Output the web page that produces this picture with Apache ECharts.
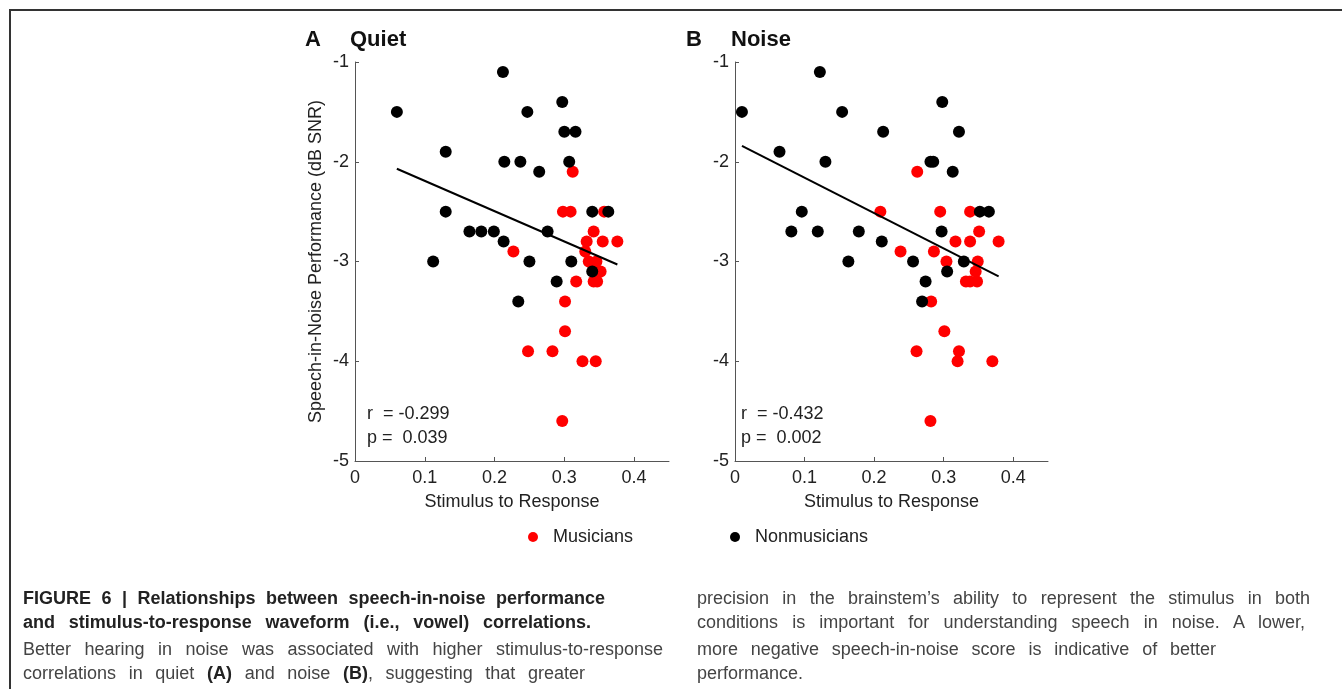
<!DOCTYPE html>
<html>
<head>
<meta charset="utf-8">
<script src="https://cdn.jsdelivr.net/npm/echarts@6/dist/echarts.min.js"></script>
<style>
  html, body { margin: 0; padding: 0; background: #fff; }
  #chart { position: absolute; left: 0; top: 0; width: 1342px; height: 689px; }
  .frame { position: absolute; left: 9px; top: 9px; width: 1340px; height: 690px;
           border-top: 2px solid #333; border-left: 2px solid #333; }
  .cap { position: absolute; font-family: "Liberation Sans", Arial, sans-serif; font-size: 18px;
         line-height: 24px; white-space: nowrap; color: #444; }
  .cap div { text-align: justify; text-align-last: justify; }
  .cap b { color: #222; }
</style>
</head>
<body>
<div class="frame"></div>
<div id="chart"></div>
<div class="cap" style="left:23px; top:586px;">
  <div style="width:582px"><b>FIGURE 6 | Relationships between speech-in-noise performance</b></div>
  <div style="width:568px"><b>and stimulus-to-response waveform (i.e., vowel) correlations.</b></div>
  <div style="width:640px; margin-top:3px">Better hearing in noise was associated with higher stimulus-to-response</div>
  <div style="width:562px">correlations in quiet <b>(A)</b> and noise <b>(B)</b>, suggesting that greater</div>
</div>
<div class="cap" style="left:697px; top:586px;">
  <div style="width:613px">precision in the brainstem’s ability to represent the stimulus in both</div>
  <div style="width:608px">conditions is important for understanding speech in noise. A lower,</div>
  <div style="width:519px; margin-top:3px">more negative speech-in-noise score is indicative of better</div>
  <div style="text-align:left; text-align-last:left">performance.</div>
</div>
<script>
// Quiet (A)
const quietMusX = [0.312, 0.298, 0.309, 0.357, 0.342, 0.332, 0.355, 0.376, 0.227, 0.330, 0.335, 0.346, 0.352, 0.317, 0.342, 0.347, 0.301, 0.301, 0.248, 0.283, 0.326, 0.345, 0.297];
const quietMusY = [-2.1, -2.5, -2.5, -2.5, -2.7, -2.8, -2.8, -2.8, -2.9, -2.9, -3.0, -3.0, -3.1, -3.2, -3.2, -3.2, -3.4, -3.7, -3.9, -3.9, -4.0, -4.0, -4.6];
const quietNonX = [0.060, 0.212, 0.297, 0.247, 0.300, 0.316, 0.130, 0.214, 0.237, 0.307, 0.264, 0.130, 0.340, 0.363, 0.164, 0.181, 0.199, 0.276, 0.213, 0.112, 0.250, 0.310, 0.340, 0.289, 0.234];
const quietNonY = [-1.5, -1.1, -1.4, -1.5, -1.7, -1.7, -1.9, -2.0, -2.0, -2.0, -2.1, -2.5, -2.5, -2.5, -2.7, -2.7, -2.7, -2.7, -2.8, -3.0, -3.0, -3.0, -3.1, -3.2, -3.4];
const quietFitX = [0.060, 0.376];
const quietFitY = [-2.07, -3.03];

// Noise (B)
const noiseMusX = [0.262, 0.209, 0.295, 0.338, 0.351, 0.317, 0.338, 0.379, 0.238, 0.286, 0.304, 0.349, 0.346, 0.332, 0.338, 0.348, 0.282, 0.301, 0.261, 0.322, 0.320, 0.370, 0.281];
const noiseMusY = [-2.1, -2.5, -2.5, -2.5, -2.7, -2.8, -2.8, -2.8, -2.9, -2.9, -3.0, -3.0, -3.1, -3.2, -3.2, -3.2, -3.4, -3.7, -3.9, -3.9, -4.0, -4.0, -4.6];
const noiseNonX = [0.010, 0.122, 0.154, 0.298, 0.213, 0.322, 0.064, 0.130, 0.281, 0.285, 0.313, 0.096, 0.352, 0.365, 0.081, 0.119, 0.178, 0.297, 0.211, 0.163, 0.256, 0.329, 0.305, 0.274, 0.269];
const noiseNonY = [-1.5, -1.1, -1.5, -1.4, -1.7, -1.7, -1.9, -2.0, -2.0, -2.0, -2.1, -2.5, -2.5, -2.5, -2.7, -2.7, -2.7, -2.7, -2.8, -3.0, -3.0, -3.0, -3.1, -3.2, -3.4];
const noiseFitX = [0.010, 0.379];
const noiseFitY = [-1.84, -3.15];

const xTicks = [0, 0.1, 0.2, 0.3, 0.4];
const yTicks = [-5, -4, -3, -2, -1];
const stats = ['r  = -0.299\np =  0.039', 'r  = -0.432\np =  0.002'];

const FONT = '"Liberation Sans", Arial, sans-serif';

function pairs(xs, ys) {
  return xs.map((x, i) => [x, ys[i]]);
}

function xAxis(idx) {
  return {
    type: 'value', gridIndex: idx, min: 0, max: 0.45, interval: 0.1,
    name: 'Stimulus to Response', nameLocation: 'middle', nameGap: 32,
    nameTextStyle: { fontFamily: FONT, fontSize: 18, color: '#222' },
    axisLine: { lineStyle: { color: '#555', width: 1 } },
    axisTick: { inside: true, length: 4, customValues: xTicks, lineStyle: { color: '#555' } },
    axisLabel: { customValues: xTicks, fontFamily: FONT, fontSize: 18, color: '#222', margin: 8 },
    splitLine: { show: false }
  };
}

function yAxis(idx, withName) {
  return {
    type: 'value', gridIndex: idx, min: -5, max: -1, interval: 1,
    name: withName ? 'Speech-in-Noise Performance (dB SNR)' : '',
    nameLocation: 'middle', nameGap: 30,
    nameTextStyle: { fontFamily: FONT, fontSize: 18, color: '#222' },
    axisLine: { show: true, lineStyle: { color: '#555', width: 1 } },
    axisTick: { show: true, inside: true, length: 4, customValues: yTicks, lineStyle: { color: '#555' } },
    axisLabel: { customValues: yTicks, fontFamily: FONT, fontSize: 18, color: '#222', margin: 6 },
    splitLine: { show: false }
  };
}

function dots(name, xs, ys, idx, color) {
  return {
    name: name, type: 'scatter', xAxisIndex: idx, yAxisIndex: idx,
    data: pairs(xs, ys), symbol: 'circle', symbolSize: 12,
    itemStyle: { color: color, opacity: 1 }
  };
}

function fit(xs, ys, idx) {
  return {
    type: 'line', xAxisIndex: idx, yAxisIndex: idx, data: pairs(xs, ys),
    showSymbol: false, symbol: 'none', silent: true,
    lineStyle: { color: '#000', width: 2 }
  };
}

const titleStyle = { fontSize: 22, fontWeight: 'bold', color: '#111', fontFamily: FONT };

const chart = echarts.init(document.getElementById('chart'));
chart.setOption({
  animation: false,
  textStyle: { fontFamily: FONT },
  title: [
    { text: 'A', left: 300, top: 24, textStyle: titleStyle },
    { text: 'Quiet', left: 345, top: 24, textStyle: titleStyle },
    { text: 'B', left: 681, top: 24, textStyle: titleStyle },
    { text: 'Noise', left: 726, top: 24, textStyle: titleStyle }
  ],
  legend: {
    data: ['Musicians', 'Nonmusicians'],
    left: 523, top: 523,
    itemWidth: 30, itemHeight: 10, itemGap: 97,
    icon: 'circle',
    textStyle: { fontFamily: FONT, fontSize: 18, color: '#222' },
    selectedMode: false
  },
  grid: [
    { left: 355, top: 62, width: 314, height: 399 },
    { left: 735, top: 62, width: 313, height: 399 }
  ],
  xAxis: [xAxis(0), xAxis(1)],
  yAxis: [yAxis(0, true), yAxis(1, false)],
  graphic: [
    { type: 'text', left: 367, top: 402, style: { text: stats[0], font: '18px ' + FONT, fill: '#222', lineHeight: 24 } },
    { type: 'text', left: 741, top: 402, style: { text: stats[1], font: '18px ' + FONT, fill: '#222', lineHeight: 24 } }
  ],
  series: [
    dots('Musicians', quietMusX, quietMusY, 0, '#ff0000'),
    dots('Nonmusicians', quietNonX, quietNonY, 0, '#000000'),
    fit(quietFitX, quietFitY, 0),
    dots('Musicians', noiseMusX, noiseMusY, 1, '#ff0000'),
    dots('Nonmusicians', noiseNonX, noiseNonY, 1, '#000000'),
    fit(noiseFitX, noiseFitY, 1)
  ]
});
</script>
</body>
</html>
